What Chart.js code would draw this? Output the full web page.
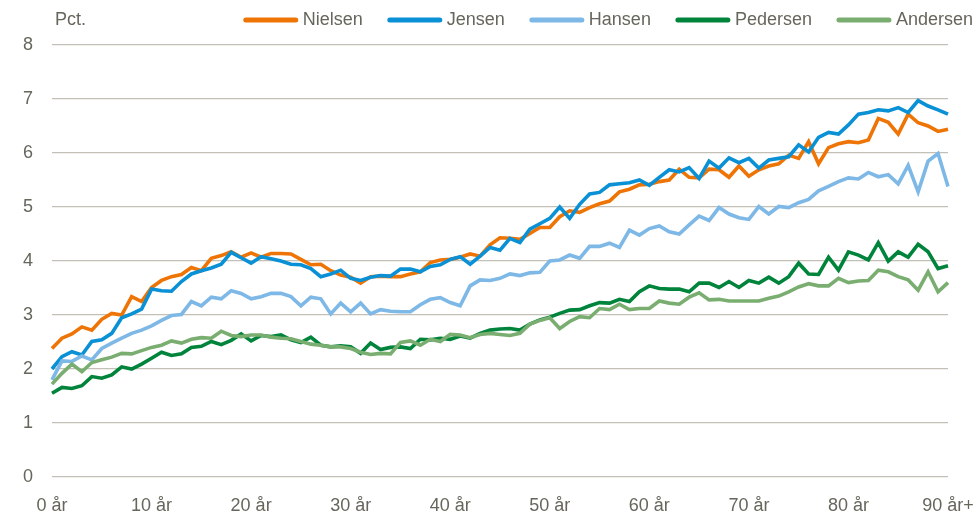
<!DOCTYPE html>
<html>
<head>
<meta charset="utf-8">
<script src="https://cdn.jsdelivr.net/npm/chart.js@4"></script>
<style>
html, body { margin: 0; padding: 0; background: #fff; }
#wrap { width: 975px; height: 515px; position: relative; }
</style>
</head>
<body>
<div id="wrap"><canvas id="line-chart"></canvas></div>
<script>
// alder 0..90 (90 = 90 år+)
var ages = [];
for (var a = 0; a <= 90; a++) { ages.push(a); }

var xTickLabels = ["0 år", "10 år", "20 år", "30 år", "40 år", "50 år", "60 år", "70 år", "80 år", "90 år+"];
var yTicks = [0, 1, 2, 3, 4, 5, 6, 7, 8];

var seriesNames = ["Nielsen", "Jensen", "Hansen", "Pedersen", "Andersen"];
var seriesColors = ["#EE7405", "#0A90D5", "#7DB8E6", "#00843C", "#7AAE70"];

var nielsen = [2.38, 2.57, 2.65, 2.78, 2.72, 2.92, 3.03, 3.00, 3.34, 3.25,
    3.51, 3.64, 3.71, 3.75, 3.88, 3.82, 4.05, 4.10, 4.17, 4.07,
    4.15, 4.07, 4.14, 4.14, 4.13, 4.03, 3.93, 3.94, 3.82, 3.74,
    3.70, 3.59, 3.71, 3.72, 3.71, 3.71, 3.76, 3.80, 3.97, 4.02,
    4.03, 4.07, 4.13, 4.09, 4.30, 4.43, 4.42, 4.40, 4.51, 4.62,
    4.62, 4.82, 4.93, 4.90, 4.99, 5.06, 5.11, 5.28, 5.33, 5.41,
    5.42, 5.47, 5.50, 5.70, 5.55, 5.54, 5.70, 5.69, 5.55, 5.76,
    5.57, 5.69, 5.76, 5.80, 5.96, 5.90, 6.21, 5.80, 6.10, 6.17,
    6.21, 6.19, 6.24, 6.64, 6.57, 6.35, 6.72, 6.56, 6.50, 6.40,
    6.44];

var jensen = [2.00, 2.23, 2.32, 2.26, 2.51, 2.54, 2.66, 2.95, 3.02, 3.11,
    3.48, 3.45, 3.44, 3.62, 3.76, 3.82, 3.87, 3.94, 4.16, 4.06,
    3.96, 4.08, 4.04, 4.00, 3.94, 3.93, 3.86, 3.71, 3.76, 3.83,
    3.68, 3.64, 3.70, 3.73, 3.72, 3.85, 3.85, 3.80, 3.90, 3.93,
    4.03, 4.08, 3.94, 4.09, 4.25, 4.20, 4.42, 4.34, 4.59, 4.69,
    4.79, 5.00, 4.79, 5.05, 5.24, 5.27, 5.41, 5.43, 5.45, 5.50,
    5.40, 5.55, 5.69, 5.65, 5.73, 5.53, 5.85, 5.72, 5.91, 5.82,
    5.90, 5.72, 5.87, 5.90, 5.93, 6.15, 6.02, 6.29, 6.38, 6.35,
    6.52, 6.72, 6.75, 6.80, 6.78, 6.84, 6.75, 6.97, 6.87, 6.80,
    6.72];

var hansen = [1.80, 2.15, 2.14, 2.24, 2.17, 2.38, 2.48, 2.57, 2.66, 2.72,
    2.80, 2.90, 2.99, 3.01, 3.25, 3.17, 3.33, 3.30, 3.45, 3.40,
    3.30, 3.34, 3.40, 3.40, 3.34, 3.17, 3.33, 3.30, 3.02, 3.22,
    3.06, 3.22, 3.02, 3.10, 3.07, 3.06, 3.06, 3.19, 3.29, 3.32,
    3.23, 3.17, 3.54, 3.65, 3.64, 3.68, 3.76, 3.73, 3.78, 3.79,
    4.00, 4.02, 4.11, 4.05, 4.27, 4.27, 4.33, 4.25, 4.57, 4.48,
    4.60, 4.65, 4.54, 4.50, 4.67, 4.83, 4.75, 4.99, 4.87, 4.80,
    4.77, 5.01, 4.87, 5.01, 4.99, 5.08, 5.14, 5.30, 5.38, 5.47,
    5.54, 5.52, 5.64, 5.56, 5.60, 5.43, 5.77, 5.28, 5.85, 5.99,
    5.38];

var pedersen = [1.55, 1.66, 1.64, 1.69, 1.86, 1.83, 1.89, 2.04, 2.00, 2.09,
    2.20, 2.31, 2.25, 2.28, 2.40, 2.42, 2.51, 2.45, 2.53, 2.65,
    2.52, 2.62, 2.60, 2.63, 2.54, 2.49, 2.59, 2.44, 2.41, 2.43,
    2.41, 2.29, 2.48, 2.36, 2.40, 2.41, 2.38, 2.55, 2.54, 2.57,
    2.55, 2.61, 2.57, 2.66, 2.72, 2.74, 2.75, 2.72, 2.83, 2.91,
    2.96, 3.03, 3.09, 3.10, 3.17, 3.23, 3.22, 3.29, 3.25, 3.43,
    3.54, 3.49, 3.48, 3.48, 3.43, 3.59, 3.59, 3.51, 3.62, 3.51,
    3.64, 3.59, 3.70, 3.59, 3.71, 3.96, 3.76, 3.75, 4.07, 3.83,
    4.17, 4.11, 4.02, 4.34, 4.00, 4.17, 4.07, 4.31, 4.17, 3.86,
    3.91];

var andersen = [1.72, 1.92, 2.09, 1.95, 2.12, 2.17, 2.22, 2.29, 2.28, 2.34,
    2.40, 2.44, 2.52, 2.48, 2.55, 2.58, 2.57, 2.70, 2.62, 2.60,
    2.63, 2.63, 2.59, 2.57, 2.56, 2.51, 2.46, 2.44, 2.41, 2.41,
    2.38, 2.31, 2.27, 2.29, 2.28, 2.49, 2.52, 2.44, 2.55, 2.51,
    2.64, 2.63, 2.58, 2.64, 2.66, 2.64, 2.62, 2.66, 2.83, 2.90,
    2.95, 2.75, 2.88, 2.97, 2.95, 3.12, 3.10, 3.20, 3.10, 3.12,
    3.12, 3.26, 3.22, 3.20, 3.33, 3.41, 3.28, 3.29, 3.26, 3.26,
    3.26, 3.26, 3.31, 3.35, 3.43, 3.52, 3.58, 3.54, 3.54, 3.68,
    3.60, 3.63, 3.64, 3.83, 3.80, 3.71, 3.65, 3.46, 3.80, 3.43,
    3.60];

var seriesValues = [nielsen, jensen, hansen, pedersen, andersen];

var FONT_FAMILY = '"Liberation Sans Narrow", "Arial Narrow", "Liberation Sans", Arial, sans-serif';
var TEXT_COLOR = '#66665c';
var GRID_COLOR = '#c3c0b6';

var datasets = [];
for (var i = 0; i < seriesNames.length; i++) {
    datasets.push({
        label: seriesNames[i],
        data: seriesValues[i],
        borderColor: seriesColors[i],
        backgroundColor: seriesColors[i],
        borderWidth: 3.6,
        pointRadius: 0,
        tension: 0,
        fill: false,
        // last series on top, like the original
        order: seriesNames.length - i
    });
}

// "Pct." and the legend line at the top
var topTexts = {
    id: 'topTexts',
    afterDraw: function(chart) {
        var ctx = chart.ctx;
        ctx.save();
        ctx.font = '18px ' + FONT_FAMILY;
        ctx.fillStyle = TEXT_COLOR;
        ctx.textBaseline = 'middle';
        ctx.textAlign = 'left';
        ctx.fillText('Pct.', 55, 20);

        var x = 973;
        for (var i = seriesNames.length - 1; i >= 0; i--) {
            var w = ctx.measureText(seriesNames[i]).width;
            x -= w;
            ctx.fillStyle = TEXT_COLOR;
            ctx.fillText(seriesNames[i], x, 20);
            x -= 5;
            ctx.strokeStyle = seriesColors[i];
            ctx.lineWidth = 5;
            ctx.lineCap = 'round';
            ctx.beginPath();
            ctx.moveTo(x - 52, 20);
            ctx.lineTo(x - 2, 20);
            ctx.stroke();
            x -= 54 + 25;
        }
        ctx.restore();
    }
};

new Chart(document.getElementById("line-chart"), {
    type: 'line',
    data: {
        labels: ages,
        datasets: datasets
    },
    plugins: [topTexts],
    options: {
        responsive: true,
        maintainAspectRatio: false,
        animation: false,
        layout: {
            padding: { top: 45, right: 0, left: 0, bottom: 0 }
        },
        plugins: {
            legend: { display: false },
            tooltip: { enabled: false }
        },
        scales: {
            x: {
                type: 'category',
                offset: false,
                grid: { display: false },
                border: { display: false },
                afterFit: function(scale) {
                    scale.height = 38;
                    scale.paddingRight = 27;
                    scale.paddingLeft = 0;
                },
                ticks: {
                    autoSkip: false,
                    maxRotation: 0,
                    padding: 10,
                    color: TEXT_COLOR,
                    font: { family: FONT_FAMILY, size: 18 },
                    callback: function(value, index) {
                        return index % 10 === 0 ? xTickLabels[index / 10] : null;
                    }
                }
            },
            y: {
                min: yTicks[0],
                max: yTicks[yTicks.length - 1],
                afterFit: function(scale) { scale.width = 52; },
                afterBuildTicks: function(scale) {
                    scale.ticks = yTicks.map(function(v) { return { value: v }; });
                },
                grid: {
                    color: GRID_COLOR,
                    lineWidth: 1.3,
                    drawTicks: false
                },
                border: { display: false },
                ticks: {
                    padding: 19,
                    color: TEXT_COLOR,
                    font: { family: FONT_FAMILY, size: 18 }
                }
            }
        }
    }
});
</script>
</body>
</html>
